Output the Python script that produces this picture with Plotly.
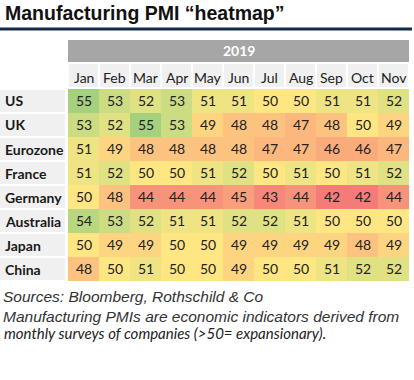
import plotly.graph_objects as go

months = ["Jan", "Feb", "Mar", "Apr", "May", "Jun", "Jul", "Aug", "Sep", "Oct", "Nov"]
countries = ["US", "UK", "Eurozone", "France", "Germany", "Australia", "Japan", "China"]
us = [55, 53, 52, 53, 51, 51, 50, 50, 51, 51, 52]
uk = [53, 52, 55, 53, 49, 48, 48, 47, 48, 50, 49]
eurozone = [51, 49, 48, 48, 48, 48, 47, 47, 46, 46, 47]
france = [51, 52, 50, 50, 51, 52, 50, 51, 50, 51, 52]
germany = [50, 48, 44, 44, 44, 45, 43, 44, 42, 42, 44]
australia = [54, 53, 52, 51, 51, 52, 52, 51, 50, 50, 50]
japan = [50, 49, 49, 50, 50, 49, 49, 49, 49, 48, 49]
china = [48, 50, 51, 50, 50, 49, 50, 50, 51, 52, 52]
year_label = "2019"

z = [us, uk, eurozone, france, germany, australia, japan, china]

W, H = 414, 380
def px_x(p):
    return p / W
def px_y(p):
    return 1 - p / H

zmin, zmax = 42, 55
def pos(v):
    return (v - zmin) / (zmax - zmin)

colorscale = [
    [pos(42), "#f47b77"],
    [pos(44), "#f7937b"],
    [pos(46), "#faab7c"],
    [pos(48), "#fcc27f"],
    [pos(50), "#fee783"],
    [pos(52), "#e0e183"],
    [pos(55), "#a5d17f"],
]

fig = go.Figure()
fig.add_trace(go.Heatmap(
    z=z, x=months, y=countries,
    zmin=zmin, zmax=zmax, colorscale=colorscale, showscale=False,
    texttemplate="%{z}", textfont=dict(family="Lato", size=14, color="#222222"),
    hoverinfo="skip",
))

shapes = []
annotations = []

# navy rule under title
shapes.append(dict(type="line", xref="paper", yref="paper", x0=0, x1=px_x(412),
                   y0=px_y(29), y1=px_y(29), line=dict(color="#122a4c", width=3)))
# year bar
shapes.append(dict(type="rect", xref="paper", yref="paper", x0=px_x(68), x1=px_x(409),
                   y0=px_y(62), y1=px_y(40), fillcolor="#a6a6a6", line=dict(width=0)))
annotations.append(dict(text="<b>" + year_label + "</b>", xref="paper", yref="paper",
                        x=(px_x(68) + px_x(409)) / 2, y=px_y(51), showarrow=False,
                        font=dict(family="Lato", size=14, color="white"),
                        xanchor="center", yanchor="middle"))
# month header cells
for i, m in enumerate(months):
    shapes.append(dict(type="rect", xref="x", yref="paper", x0=i - 0.5 + 0.035, x1=i + 0.5 - 0.035,
                       y0=px_y(87), y1=px_y(64), fillcolor="#f0f0f0", line=dict(width=0)))
    annotations.append(dict(text=m, xref="x", yref="paper", x=i, y=px_y(78), showarrow=False,
                            font=dict(family="Lato", size=14, color="#222222"),
                            xanchor="center", yanchor="middle"))
# row label cells
for j, c in enumerate(countries):
    shapes.append(dict(type="rect", xref="paper", yref="y", x0=0, x1=px_x(65),
                       y0=j - 0.46, y1=j + 0.46, fillcolor="#f0f0f0", line=dict(width=0), layer="below"))
    annotations.append(dict(text="<b>" + c + "</b>", xref="paper", yref="y", x=px_x(3), y=j,
                            showarrow=False, font=dict(family="Lato", size=14, color="#1a1a1a"),
                            xanchor="left", yanchor="middle"))

# title
annotations.append(dict(text="<b>Manufacturing PMI \u201cheatmap\u201d</b>", xref="paper", yref="paper",
                        x=px_x(3), y=px_y(13), showarrow=False, xanchor="left", yanchor="middle",
                        font=dict(family="Liberation Sans", size=19.5, color="#111111")))
# footer
annotations.append(dict(text="<i>Sources: Bloomberg, Rothschild & Co</i>", xref="paper", yref="paper",
                        x=px_x(1), y=px_y(296), showarrow=False, xanchor="left", yanchor="middle",
                        font=dict(family="Liberation Sans", size=15.5, color="#333333")))
annotations.append(dict(text="<i>Manufacturing PMIs are economic indicators derived from</i>",
                        xref="paper", yref="paper",
                        x=px_x(1), y=px_y(316), showarrow=False, xanchor="left", yanchor="middle",
                        font=dict(family="Liberation Sans", size=15.5, color="#333333")))
annotations.append(dict(text="<i>monthly surveys of companies (>50= expansionary).</i>",
                        xref="paper", yref="paper",
                        x=px_x(2), y=px_y(333), showarrow=False, xanchor="left", yanchor="middle",
                        font=dict(family="Lato", size=15, color="#222222")))

fig.update_layout(
    width=W, height=H, margin=dict(l=0, r=0, t=0, b=0),
    paper_bgcolor="white", plot_bgcolor="white",
    xaxis=dict(domain=[px_x(68), px_x(409)], showticklabels=False, showgrid=False,
               zeroline=False, ticks="", fixedrange=True),
    yaxis=dict(domain=[px_y(281), px_y(89)], autorange="reversed", showticklabels=False,
               showgrid=False, zeroline=False, ticks="", fixedrange=True),
    shapes=shapes, annotations=annotations, showlegend=False,
)

fig.write_html("out.html", config={"displayModeBar": False},
               post_script="document.body.style.margin='0';document.body.style.overflow='hidden';")
